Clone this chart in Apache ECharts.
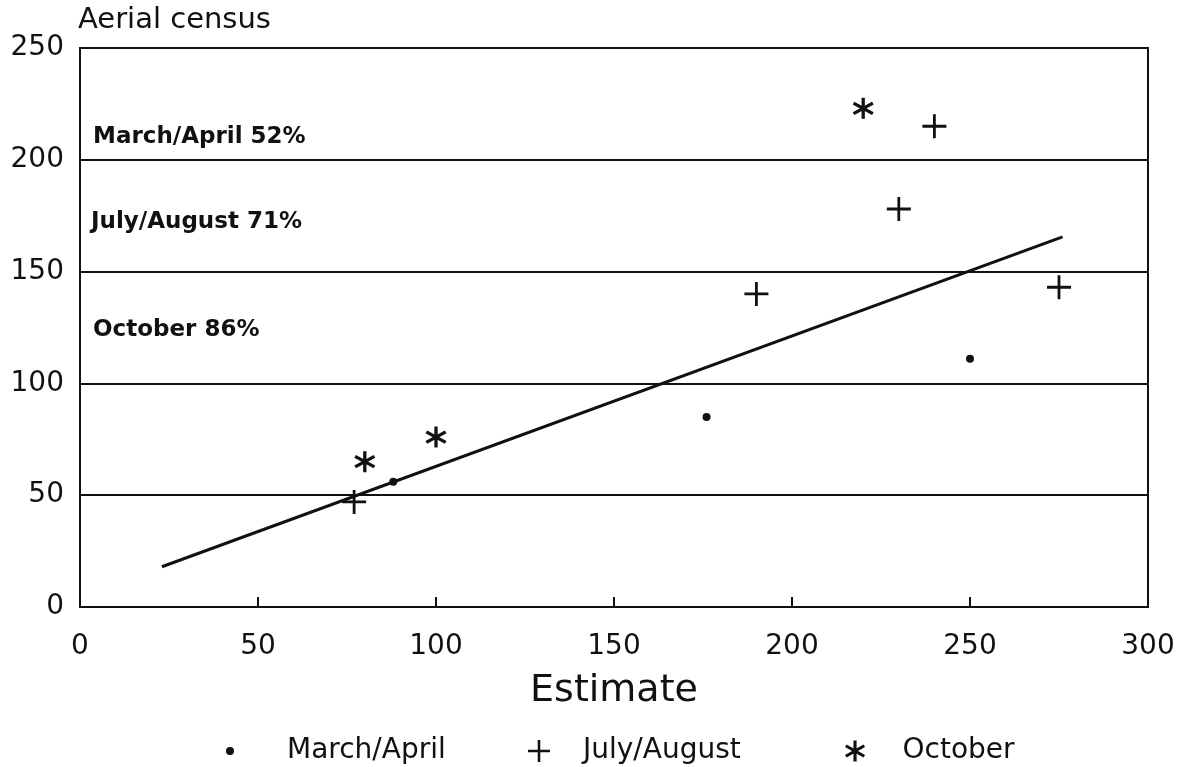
<!DOCTYPE html>
<html>
<head>
<meta charset="utf-8">
<script src="https://cdn.jsdelivr.net/npm/echarts@6/dist/echarts.min.js"></script>
<style>html,body{margin:0;padding:0;background:#fff;}#c{width:1193px;height:767px;}</style>
</head>
<body>
<div id="c"></div>
<script>
// ---- data ----
var marchApril = [[88, 56], [176, 85], [250, 111]];
var julyAugust = [[77, 47], [190, 140], [230, 178], [240, 215], [275, 143]];
var october = [[80, 65], [100, 76], [220, 223]];
var fitLine = [[23, 18], [276, 165.5]];
var xTicks = [0, 50, 100, 150, 200, 250, 300];
var yTicks = [0, 50, 100, 150, 200, 250];
var seriesNames = ['March/April', 'July/August', 'October'];
var annotations = ['March/April 52%', 'July/August 71%', 'October 86%'];

var INK = '#111';
var FONT = 'DejaVu Sans';
var plusPath = 'path://M10.6,0H13.4V10.6H24V13.4H13.4V24H10.6V13.4H0V10.6H10.6Z';
// six-armed asterisk (vertical bar + two diagonals), all sub-paths with the same winding
var starPath = 'path://M8.5,0H11.5V20H8.5Z ' +
  'M0.45,6.30L1.95,3.70L19.55,13.70L18.05,16.30Z ' +
  'M0.45,13.70L18.05,3.70L19.55,6.30L1.95,16.30Z';

var chart = echarts.init(document.getElementById('c'));
function legendAt(name, left, icon, size, pad) {
  return {
    data: [{ name: name, icon: icon, itemStyle: { color: INK, opacity: 1 } }],
    left: left, top: 732, orient: 'horizontal',
    itemWidth: size, itemHeight: size, selectedMode: false,
    textStyle: { fontFamily: FONT, fontSize: 28, color: INK, padding: [0, 0, 0, pad] }
  };
}
chart.setOption({
  backgroundColor: '#fff',
  animation: false,
  grid: { left: 80, right: 45, top: 48, bottom: 160, show: true, borderColor: INK, borderWidth: 2, backgroundColor: 'transparent' },
  xAxis: {
    type: 'value', min: xTicks[0], max: xTicks[xTicks.length - 1], interval: 50,
    name: 'Estimate', nameLocation: 'middle', nameGap: 65, nameMoveOverlap: false,
    nameTextStyle: { fontFamily: FONT, fontSize: 38, color: INK, verticalAlign: 'top' },
    axisLine: { show: true, lineStyle: { color: INK, width: 2 } },
    axisTick: { show: true, inside: true, length: 10, lineStyle: { color: INK, width: 2 } },
    axisLabel: { fontFamily: FONT, fontSize: 28, color: INK, margin: 26 },
    splitLine: { show: false }
  },
  yAxis: {
    type: 'value', min: yTicks[0], max: yTicks[yTicks.length - 1], interval: 50,
    axisLine: { show: true, lineStyle: { color: INK, width: 2 } },
    axisTick: { show: false },
    axisLabel: { fontFamily: FONT, fontSize: 28, color: INK, margin: 16 },
    splitLine: { show: true, lineStyle: { color: INK, width: 2 } }
  },
  legend: [
    legendAt(seriesNames[0], 221, 'circle', 8, 48),
    legendAt(seriesNames[1], 523, plusPath, 22, 28),
    legendAt(seriesNames[2], 840, starPath, 21, 32)
  ],
  graphic: [
    { type: 'text', left: 78, top: 6, style: { text: 'Aerial census', font: '29px "DejaVu Sans"', fill: INK } },
    { type: 'text', left: 93, top: 126, style: { text: annotations[0], font: 'bold 23px "DejaVu Sans"', fill: INK } },
    { type: 'text', left: 91, top: 211, style: { text: annotations[1], font: 'bold 23px "DejaVu Sans"', fill: INK } },
    { type: 'text', left: 93, top: 319, style: { text: annotations[2], font: 'bold 23px "DejaVu Sans"', fill: INK } }
  ],
  series: [
    { name: 'fit', type: 'line', data: fitLine, showSymbol: false, symbol: 'none',
      lineStyle: { color: INK, width: 3 }, z: 3, silent: true },
    { name: seriesNames[0], type: 'scatter', data: marchApril, symbol: 'circle', symbolSize: 8,
      itemStyle: { color: INK, opacity: 1 }, z: 5 },
    { name: seriesNames[1], type: 'scatter', data: julyAugust, symbol: plusPath, symbolSize: 24,
      itemStyle: { color: INK, opacity: 1 }, z: 5 },
    { name: seriesNames[2], type: 'scatter', data: october, symbol: starPath, symbolSize: 21,
      itemStyle: { color: INK, opacity: 1 }, z: 5 }
  ]
});
</script>
</body>
</html>
